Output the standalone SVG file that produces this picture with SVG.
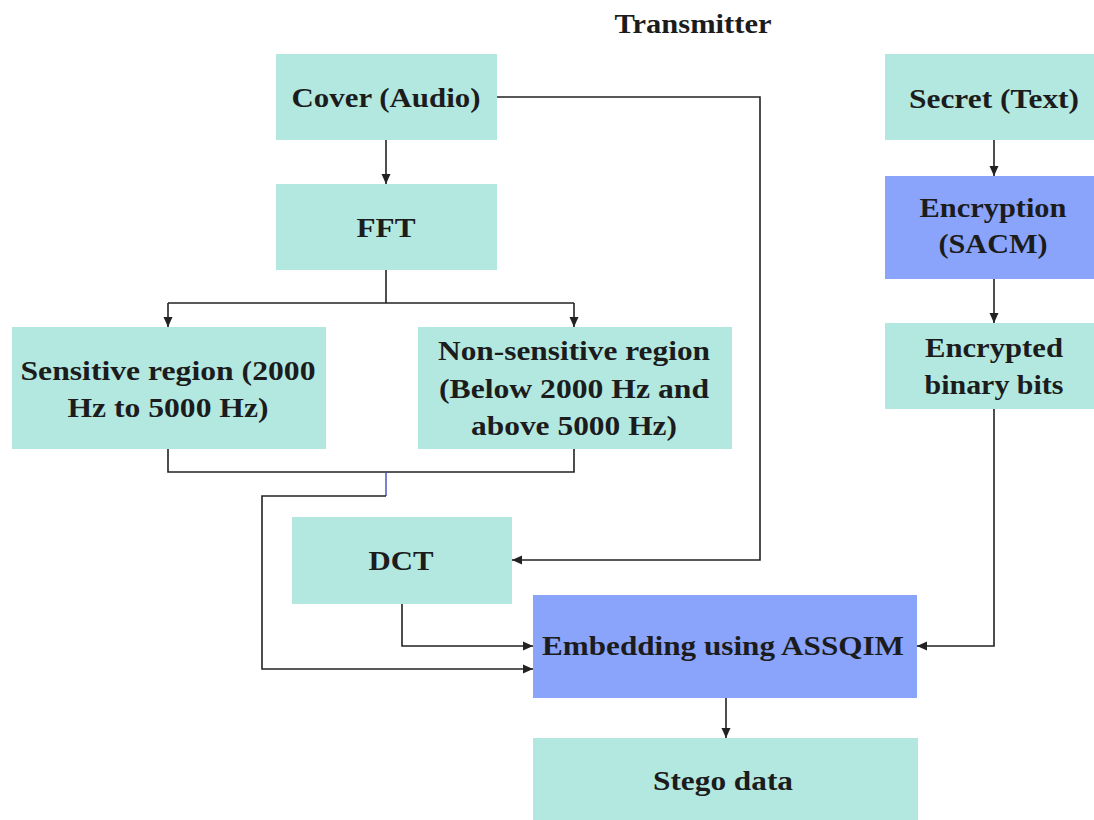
<svg xmlns="http://www.w3.org/2000/svg" width="1094" height="820" viewBox="0 0 1094 820">
<style>
.t{fill:#b3e8e0}
.b{fill:#8aa4fc}
text{font-family:"Liberation Serif","Times New Roman",serif;font-weight:bold;font-size:27px;fill:#1c1c1c;text-anchor:middle}
.c{fill:none;stroke:#222;stroke-width:1.6}
</style>
<defs>
<marker id="ah" viewBox="0 0 10 10" refX="10" refY="5" markerWidth="10" markerHeight="10" markerUnits="userSpaceOnUse" orient="auto">
<path d="M0,0.5 L10,5 L0,9.5 Z" fill="#222"/>
</marker>
</defs>
<rect width="1094" height="820" fill="#fff"/>
<text x="693" y="33" textLength="157" lengthAdjust="spacingAndGlyphs">Transmitter</text>
<g id="cover"><rect class="t" x="276" y="54" width="221" height="86"/><text x="386" y="107" textLength="189" lengthAdjust="spacingAndGlyphs">Cover (Audio)</text></g>
<g id="fft"><rect class="t" x="276" y="184" width="221" height="86"/><text x="386" y="237" textLength="59" lengthAdjust="spacingAndGlyphs">FFT</text></g>
<g id="sensitive"><rect class="t" x="12" y="327" width="314" height="122"/><text x="168" y="380" textLength="295" lengthAdjust="spacingAndGlyphs">Sensitive region (2000</text><text x="168" y="417" textLength="201" lengthAdjust="spacingAndGlyphs">Hz to 5000 Hz)</text></g>
<g id="nonsensitive"><rect class="t" x="418" y="327" width="314" height="122"/><text x="574" y="360" textLength="272" lengthAdjust="spacingAndGlyphs">Non-sensitive region</text><text x="574" y="398" textLength="270" lengthAdjust="spacingAndGlyphs">(Below 2000 Hz and</text><text x="574" y="435" textLength="206" lengthAdjust="spacingAndGlyphs">above 5000 Hz)</text></g>
<g id="dct"><rect class="t" x="292" y="517" width="220" height="87"/><text x="401" y="570" textLength="65" lengthAdjust="spacingAndGlyphs">DCT</text></g>
<g id="embedding"><rect class="b" x="533" y="595" width="384" height="103"/><text x="723" y="655" textLength="362" lengthAdjust="spacingAndGlyphs">Embedding using ASSQIM</text></g>
<g id="stego"><rect class="t" x="533" y="738" width="385" height="82"/><text x="723" y="790" textLength="140" lengthAdjust="spacingAndGlyphs">Stego data</text></g>
<g id="secret"><rect class="t" x="885" y="54" width="209" height="86"/><text x="994" y="108" textLength="170" lengthAdjust="spacingAndGlyphs">Secret (Text)</text></g>
<g id="encryption"><rect class="b" x="885" y="176" width="209" height="103"/><text x="993" y="217" textLength="147" lengthAdjust="spacingAndGlyphs">Encryption</text><text x="993" y="253" textLength="109" lengthAdjust="spacingAndGlyphs">(SACM)</text></g>
<g id="encbits"><rect class="t" x="885" y="323" width="209" height="86"/><text x="994" y="357" textLength="138" lengthAdjust="spacingAndGlyphs">Encrypted</text><text x="994" y="394" textLength="139" lengthAdjust="spacingAndGlyphs">binary bits</text></g>
<g id="connectors">
<path class="c" d="M386,140 V184" marker-end="url(#ah)"/>
<path class="c" d="M386,270 V303"/>
<path class="c" d="M168,303 H574"/>
<path class="c" d="M168,303 V327" marker-end="url(#ah)"/>
<path class="c" d="M574,303 V327" marker-end="url(#ah)"/>
<path class="c" d="M168,449 V472 H574 V449"/>
<path d="M386,472 V496" fill="none" stroke="#3c50c8" stroke-width="1.4"/>
<path class="c" d="M386,496 H262 V669 H533" marker-end="url(#ah)"/>
<path class="c" d="M497,97 H760 V560 H512" marker-end="url(#ah)"/>
<path class="c" d="M402,604 V646 H533" marker-end="url(#ah)"/>
<path class="c" d="M994,140 V176" marker-end="url(#ah)"/>
<path class="c" d="M994,279 V323" marker-end="url(#ah)"/>
<path class="c" d="M994,409 V646 H917" marker-end="url(#ah)"/>
<path class="c" d="M726,698 V738" marker-end="url(#ah)"/>
</g>
</svg>
